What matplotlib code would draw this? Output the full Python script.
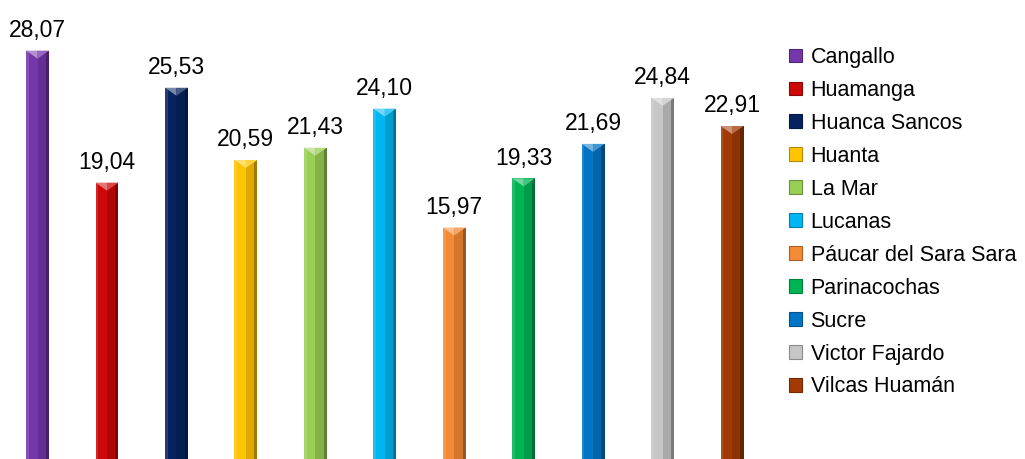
import matplotlib.pyplot as plt
from matplotlib.patches import Patch, Polygon
import matplotlib.colors as mcolors
import numpy as np

plt.rcParams['font.family'] = ['Liberation Sans', 'DejaVu Sans']

# Provincias y valores
provincias = ["Cangallo", "Huamanga", "Huanca Sancos", "Huanta", "La Mar", "Lucanas",
              "Páucar del Sara Sara", "Parinacochas", "Sucre", "Victor Fajardo", "Vilcas Huamán"]
valores = [28.07, 19.04, 25.53, 20.59, 21.43, 24.10, 15.97, 19.33, 21.69, 24.84, 22.91]
colores = ["#7535AB", "#CC0808", "#06235F", "#FFC400", "#9ACF55", "#00B6F2",
           "#F58A36", "#00B454", "#0274C6", "#C6C6C6", "#A33A06"]


def tono(color, f):
    """Aclara (f>1) u oscurece (f<1) un color"""
    r, g, b = mcolors.to_rgb(color)
    if f < 1:
        return (r * f, g * f, b * f)
    t = f - 1
    return (r + (1 - r) * t, g + (1 - g) * t, b + (1 - b) * t)


fig = plt.figure(figsize=(10.25, 4.59), dpi=100)
ax = fig.add_axes([2.8 / 1025, 0, 764 / 1025, 1])

x = np.arange(len(valores))
ancho = 0.33
px = 14.62  # pixeles por unidad en y
punta = 8 / px

# Barra base (cara izquierda)
barras = ax.bar(x, valores, width=ancho, color=colores, zorder=2)

for b, v, c in zip(barras, valores, colores):
    x0 = b.get_x()
    w = b.get_width()
    xc = x0 + w / 2
    # cara derecha más oscura
    ax.bar(xc, v, width=w / 2, align='edge', color=tono(c, 0.86), zorder=3)
    # borde derecho
    ax.bar(x0 + w * 0.86, v, width=w * 0.14, align='edge', color=tono(c, 0.62), zorder=4)
    # brillo izquierdo
    ax.bar(x0, v, width=w * 0.12, align='edge', color=tono(c, 1.12), zorder=4)
    # punta biselada superior
    ax.add_patch(Polygon([(x0, v), (xc, v - punta), (xc, v)], closed=True,
                         color=tono(c, 1.45), zorder=5, lw=0))
    ax.add_patch(Polygon([(xc, v), (xc, v - punta), (x0 + w, v)], closed=True,
                         color=tono(c, 1.25), zorder=5, lw=0))
    ax.annotate(f"{v:.2f}".replace('.', ','), (xc, v), xytext=(0, 10), textcoords='offset points',
                ha='center', va='baseline', fontsize=16.5, color='black')

ax.set_xlim(-0.5, len(valores) - 0.5)
ax.set_ylim(0.14, 31.53)
ax.axis('off')

# Leyenda
handles = [Patch(facecolor=c, edgecolor=tono(c, 0.7), lw=0.8) for c in colores]
fig.legend(handles, provincias, loc='upper left', bbox_to_anchor=(789 / 1025, 1 - 47 / 459),
           frameon=False, fontsize=15.5, handlelength=0.6, handleheight=0.6,
           handletextpad=0.4, labelspacing=0.555, borderpad=0, borderaxespad=0)

fig.savefig("out.png", dpi=100)
